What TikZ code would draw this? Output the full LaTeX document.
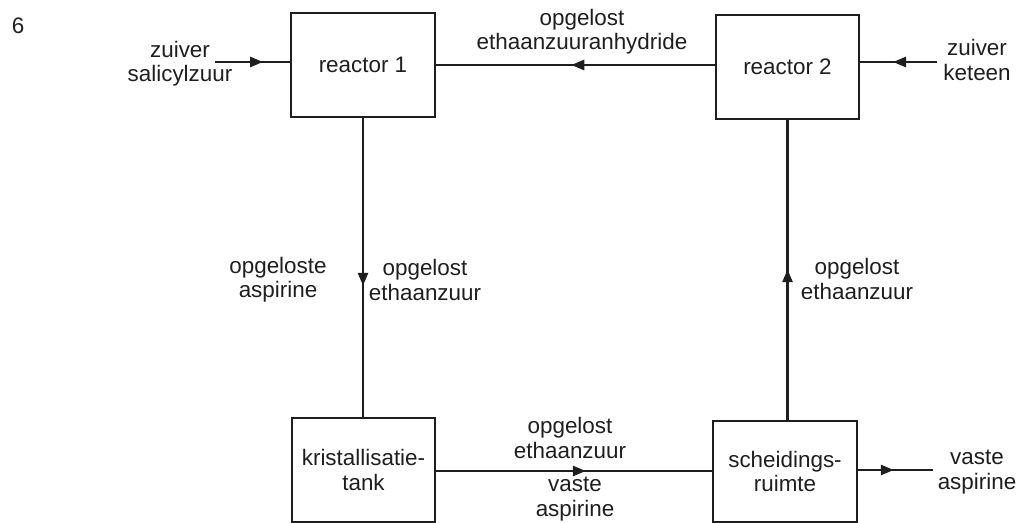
\documentclass[tikz,border=0pt]{standalone}
\usepackage{fontspec}
\setmainfont{Liberation Sans}
\usetikzlibrary{arrows.meta,decorations.markings}
\definecolor{ink}{HTML}{1E1E1E}
\tikzset{
  box/.style={draw=ink, line width=1.5bp, minimum width=144bp, minimum height=104bp, inner sep=0pt, align=center, text=ink},
  lbl/.style={inner sep=0pt, align=center, text=ink},
  flow/.style={draw=ink, line width=2.7bp},
  arrowat/.style={postaction={decorate, decoration={markings,
     mark=at position #1 with {\arrow[ink]{Triangle[length=13bp,width=10bp]}}}}}
}
\begin{document}
\begin{tikzpicture}[x=1bp,y=-1bp, font=\fontsize{22.5}{24.5}\selectfont]
\useasboundingbox (0,0) rectangle (1021,523);
% boxes
\node[box] (r1) at (363,65) {reactor 1};
\node[box, minimum width=143bp] (r2) at (787.5,67) {reactor 2};
\node[box, minimum width=143bp] (kt) at (363.5,470) {kristallisatie-\\tank};
\node[box, minimum height=101bp] (sr) at (785,471.5) {scheidings-\\ruimte};
% free ends
\coordinate (inL) at (215,62);
\coordinate (inR) at (937,62);
\coordinate (outR) at (933,470);
% connectors
\draw[flow, arrowat=48bp] (inL) -- (inL -| r1.west);
\draw[flow, arrowat=144bp] (r2.west |- r1.east) -- (r1.east);
\draw[flow, arrowat=44bp] (inR) -- (inR -| r2.east);
\draw[flow, arrowat=168bp] (r1.south) -- (r1.south |- kt.north);
\draw[flow, arrowat=151bp] (sr.north -| r2.south) -- (r2.south);
\draw[flow, arrowat=150bp] (kt.east |- 0,471) -- (sr.west |- 0,471);
\draw[flow, arrowat=36bp] (sr.east |- outR) -- (outR);
% labels
\node[lbl] (n6) at (18,26) {6};
\node[lbl] (l1) at (180,63.5) {zuiver\\salicylzuur};
\node[lbl] (l2) at (582,32) {opgelost\\ethaanzuuranhydride};
\node[lbl] (l3) at (977,60) {zuiver\\keteen};
\node[lbl] (l4) at (278,280) {opgeloste\\aspirine};
\node[lbl] (l5) at (425,280) {opgelost\\ethaanzuur};
\node[lbl] (l6) at (857,279) {opgelost\\ethaanzuur};
\node[lbl] (l7) at (570,438) {opgelost\\ethaanzuur};
\node[lbl] (l8) at (575,499) {vaste\\aspirine};
\node[lbl] (l9) at (977,472) {vaste\\aspirine};
\end{tikzpicture}
\end{document}
